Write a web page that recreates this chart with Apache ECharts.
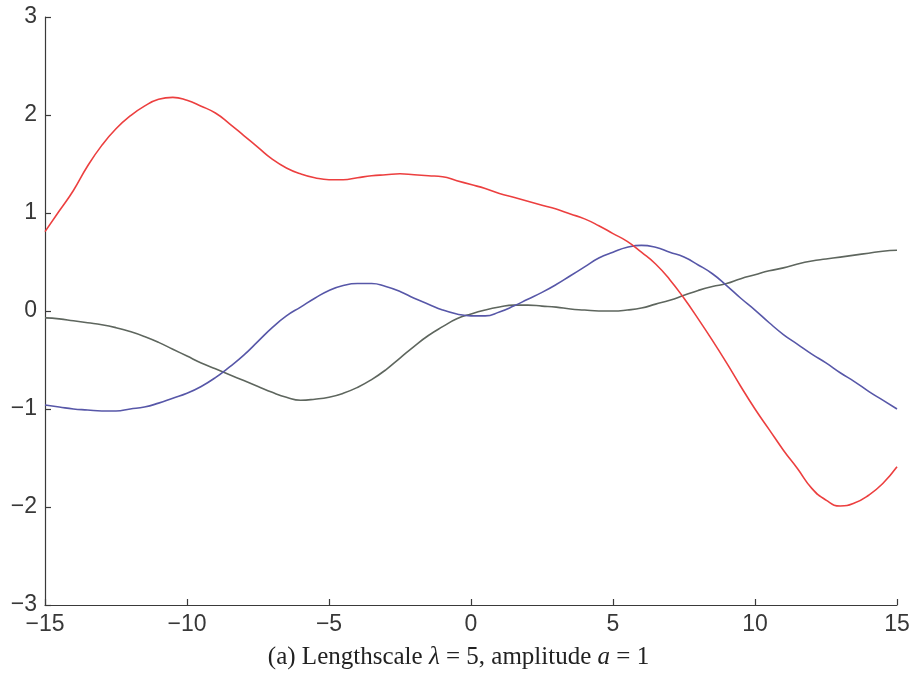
<!DOCTYPE html>
<html>
<head>
<meta charset="utf-8">
<script src="https://cdn.jsdelivr.net/npm/echarts@6/dist/echarts.min.js"></script>
<style>html,body{margin:0;padding:0;background:#fff;}#c{width:917px;height:676px;}</style>
</head>
<body>
<div id="c"></div>
<script>
const xValues = [-15,-14.5,-14,-13.5,-13,-12.5,-12,-11.5,-11,-10.5,-10,-9.5,-9,-8.5,-8,-7.5,-7,-6.5,-6,-5.5,-5,-4.5,-4,-3.5,-3,-2.5,-2,-1.5,-1,-0.5,0,0.5,1,1.5,2,2.5,3,3.5,4,4.5,5,5.5,6,6.5,7,7.5,8,8.5,9,9.5,10,10.5,11,11.5,12,12.5,13,13.5,14,14.5,15];
const redSeries = [0.81,1.02,1.23,1.48,1.69,1.86,1.99,2.09,2.16,2.18,2.15,2.09,2.02,1.91,1.79,1.67,1.55,1.46,1.40,1.36,1.34,1.34,1.36,1.38,1.39,1.40,1.39,1.38,1.37,1.33,1.29,1.25,1.20,1.16,1.12,1.08,1.04,0.99,0.94,0.87,0.79,0.71,0.60,0.48,0.32,0.13,-0.08,-0.30,-0.53,-0.77,-1.00,-1.21,-1.42,-1.61,-1.81,-1.93,-1.99,-1.96,-1.88,-1.76,-1.59];
const blueSeries = [-0.96,-0.98,-1.00,-1.01,-1.02,-1.02,-1.00,-0.98,-0.94,-0.89,-0.84,-0.77,-0.68,-0.57,-0.45,-0.31,-0.17,-0.05,0.04,0.13,0.21,0.26,0.28,0.28,0.25,0.20,0.13,0.07,0.01,-0.03,-0.05,-0.05,-0.01,0.05,0.12,0.19,0.27,0.36,0.45,0.54,0.60,0.65,0.67,0.65,0.60,0.55,0.47,0.38,0.26,0.13,0.01,-0.12,-0.24,-0.34,-0.44,-0.53,-0.63,-0.72,-0.82,-0.91,-1.00];
const graySeries = [-0.07,-0.08,-0.10,-0.12,-0.14,-0.17,-0.21,-0.26,-0.32,-0.39,-0.46,-0.53,-0.59,-0.65,-0.71,-0.77,-0.83,-0.88,-0.91,-0.90,-0.88,-0.84,-0.78,-0.70,-0.60,-0.48,-0.36,-0.25,-0.16,-0.08,-0.03,0.01,0.04,0.06,0.06,0.05,0.04,0.02,0.01,0.00,0.00,0.01,0.03,0.07,0.11,0.16,0.21,0.25,0.28,0.33,0.37,0.41,0.44,0.48,0.51,0.53,0.55,0.57,0.59,0.61,0.62];
const xTicks = [-15,-10,-5,0,5,10,15];
const yTicks = [-3,-2,-1,0,1,2,3];

const pairs = ys => xValues.map((x, i) => [x, ys[i]]);
const fmt = v => String(v).replace('-', '\u2212');

const chart = echarts.init(document.getElementById('c'), null, {renderer: 'canvas'});
const labelStyle = {color: '#383838', fontFamily: 'Liberation Sans, Arial, sans-serif', fontSize: 23, formatter: fmt, margin: 8};
const axisCommon = {
  axisLine: {show: true, onZero: false, lineStyle: {color: '#3a3a3a', width: 1.2}},
  axisTick: {show: true, inside: true, length: 6, lineStyle: {color: '#3a3a3a', width: 1.2}},
  splitLine: {show: false},
  axisLabel: labelStyle
};
chart.setOption({
  animation: false,
  backgroundColor: '#ffffff',
  grid: {left: 45, right: 20, top: 17, bottom: 71, containLabel: false},
  xAxis: Object.assign({type: 'value', min: xTicks[0], max: xTicks[xTicks.length-1], interval: 5}, axisCommon),
  yAxis: Object.assign({type: 'value', min: yTicks[0], max: yTicks[yTicks.length-1], interval: 1}, axisCommon),
  title: {
    text: '{n|(a) Lengthscale }{i|λ}{n| = 5, amplitude }{i|a}{n| = 1}',
    left: 'center', bottom: 1,
    textStyle: {
      rich: {
        n: {fontFamily: 'Liberation Serif, DejaVu Serif, serif', fontSize: 25, fontWeight: 'normal', color: '#222'},
        i: {fontFamily: 'Liberation Serif, DejaVu Serif, serif', fontSize: 25, fontWeight: 'normal', fontStyle: 'italic', color: '#222'}
      }
    }
  },
  series: [
    {type: 'line', data: pairs(graySeries), smooth: true, symbol: 'none', lineStyle: {color: '#5e665e', width: 1.6}},
    {type: 'line', data: pairs(blueSeries), smooth: true, symbol: 'none', lineStyle: {color: '#5757a8', width: 1.6}},
    {type: 'line', data: pairs(redSeries), smooth: true, symbol: 'none', lineStyle: {color: '#ec3f3f', width: 1.6}}
  ]
});
</script>
</body>
</html>
